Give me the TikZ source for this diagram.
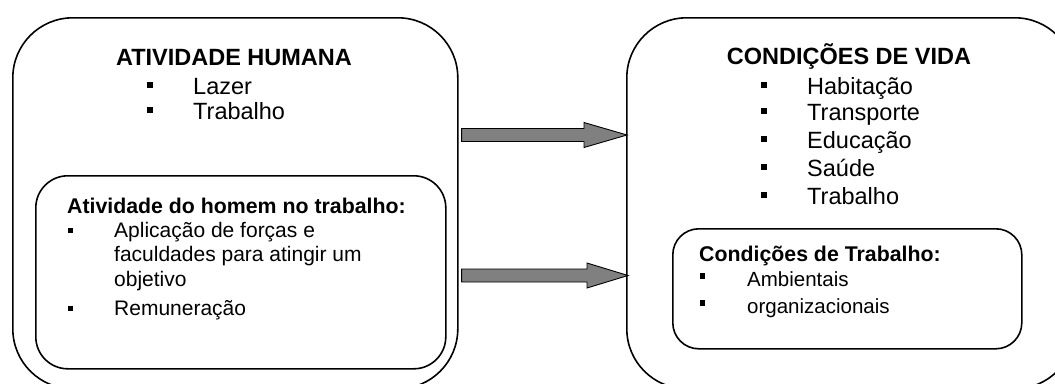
\documentclass[tikz,border=0pt]{standalone}
\usepackage{fontspec}
\setmainfont{Liberation Sans}
\usetikzlibrary{calc}
\begin{document}
\begin{tikzpicture}[x=1pt,y=-1pt,
  bigbox/.style={draw,line width=1.6pt,rounded corners=60pt,anchor=north west,inner sep=0pt},
  smallbox/.style={draw,line width=1.6pt,anchor=north west,inner sep=0pt},
  txt/.style={inner sep=0pt,anchor=base west},
  ttl/.style={inner sep=0pt,anchor=base,font=\fontsize{23.5}{26}\selectfont\bfseries},
  big/.style={font=\fontsize{23.5}{26}\selectfont},
  mid/.style={font=\fontsize{21}{24}\selectfont},
  midb/.style={font=\fontsize{21.3}{24}\selectfont\bfseries},
  sml/.style={font=\fontsize{20.5}{23}\selectfont},
  barrow/.style={draw=black,line width=0.9pt,fill=black!50,line join=miter}]
\useasboundingbox (0,0) rectangle (1055,383);
\clip (0,0) rectangle (1055,383);
% boxes
\node[bigbox,minimum width=445pt,minimum height=371pt] (L) at (12,17) {};
\node[bigbox,minimum width=448pt,minimum height=371pt] (R) at (626,17) {};
\node[smallbox,rounded corners=32pt,minimum width=410pt,minimum height=193pt] (Li) at (35,175) {};
\node[smallbox,rounded corners=26pt,minimum width=349pt,minimum height=120pt] (Ri) at (672,228) {};
% left texts
\node[ttl] (lt) at (234,65) {ATIVIDADE HUMANA};
\node[txt,big] (l1) at (193,94) {Lazer};
\node[txt,big] (l2) at (193,119) {Trabalho};
\fill (147,81.5) rectangle ++(6,6.3);
\fill (147,106.5) rectangle ++(6,6.3);
\node[txt,midb] (lit) at (67,213) {Atividade do homem no trabalho:};
\node[txt,mid] (li1) at (114,237) {Aplicação de forças e};
\node[txt,mid] (li2) at (114,261) {faculdades para atingir um};
\node[txt,mid] (li3) at (114,286) {objetivo};
\node[txt,mid] (li4) at (114,315) {Remuneração};
\fill (68,227.5) rectangle ++(5,5.5);
\fill (68,305.5) rectangle ++(5,5.5);
% right texts
\node[ttl] (rt) at (849,64) {CONDIÇÕES DE VIDA};
\node[txt,big] (r1) at (807,94) {Habitação};
\node[txt,big] (r2) at (807,120) {Transporte};
\node[txt,big] (r3) at (807,148) {Educação};
\node[txt,big] (r4) at (807,176) {Saúde};
\node[txt,big] (r5) at (807,204) {Trabalho};
\foreach \yy in {94,120,148,176,204}{\fill (761,\yy-12.5) rectangle ++(6,6.3);}
\node[txt,midb] (rit) at (699,261) {Condições de Trabalho:};
\node[txt,sml] (ri1) at (747,286) {Ambientais};
\node[txt,sml] (ri2) at (747,313) {organizacionais};
\fill (700,273) rectangle ++(5,5.5);
\fill (700,300) rectangle ++(5,5.5);
% arrows
\coordinate (a1s) at ([xshift=3pt]L.east |- 0,135);
\coordinate (a1e) at ([xshift=1pt]R.west |- 0,135);
\coordinate (a2s) at ([xshift=3pt]L.east |- 0,275.5);
\coordinate (a2e) at ([xshift=2pt]R.west |- 0,275.5);
\draw[barrow] ($(a1s)+(0,-6.5)$) -- ($(a1e)+(-43,-6.5)$) -- ($(a1e)+(-43,-12.5)$) -- (a1e)
  -- ($(a1e)+(-43,12.5)$) -- ($(a1e)+(-43,6.5)$) -- ($(a1s)+(0,6.5)$) -- cycle;
\draw[barrow] ($(a2s)+(0,-6.5)$) -- ($(a2e)+(-41,-6.5)$) -- ($(a2e)+(-41,-12.5)$) -- (a2e)
  -- ($(a2e)+(-41,12.5)$) -- ($(a2e)+(-41,6.5)$) -- ($(a2s)+(0,6.5)$) -- cycle;
\end{tikzpicture}
\end{document}
